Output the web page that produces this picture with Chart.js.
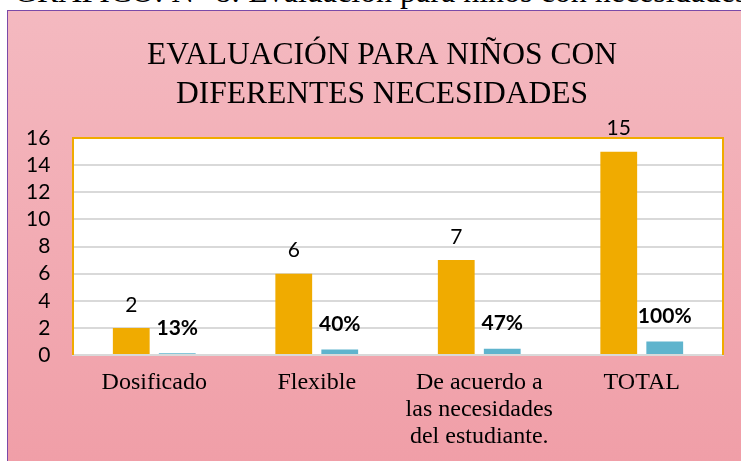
<!DOCTYPE html>
<html>
<head>
<meta charset="utf-8">
<script src="https://cdn.jsdelivr.net/npm/chart.js"></script>
<style>
  body { margin: 0; background: #fff; overflow: hidden; width: 741px; height: 461px; position: relative; }
  #cap { position: absolute; left: 14px; top: -25px; font: 32px "Liberation Serif", serif; line-height: 32px; white-space: nowrap; color: #000; }
  #box { position: absolute; left: 7px; top: 10px; width: 740px; height: 460px; border-left: 1px solid #7a4aa8; border-top: 1px solid #7a4aa8; }
</style>
</head>
<body>
<div id="cap">GRÁFICO: N° 8: Evaluación para niños con necesidades diferentes</div>
<div id="box"><canvas id="myChart" width="740" height="460"></canvas></div>
<script>
const categories = ['Dosificado', 'Flexible', ['De acuerdo a', 'las necesidades', 'del estudiante.'], 'TOTAL'];
const counts = [2, 6, 7, 15];
const shares = [0.13, 0.40, 0.47, 1.00];
const shareLabels = ['13%', '40%', '47%', '100%'];
const yMax = 16;
const yStep = 2;

// pink gradient behind everything, white plot area
const background = {
  id: 'background',
  beforeDraw(chart) {
    const ctx = chart.ctx, a = chart.chartArea;
    ctx.save();
    const g = ctx.createLinearGradient(0, 0, 0, chart.height);
    g.addColorStop(0, '#f4b9c0');
    g.addColorStop(1, '#f09ea7');
    ctx.fillStyle = g;
    ctx.fillRect(0, 0, chart.width, chart.height);
    ctx.fillStyle = '#fff';
    ctx.fillRect(a.left, a.top, a.right - a.left, a.bottom - a.top);
    ctx.restore();
  },
  afterDraw(chart) {
    const ctx = chart.ctx, a = chart.chartArea;
    ctx.save();
    ctx.strokeStyle = '#f0ab00';
    ctx.lineWidth = 2;
    ctx.beginPath();
    ctx.moveTo(a.left, a.bottom);
    ctx.lineTo(a.left, a.top);
    ctx.lineTo(a.right, a.top);
    ctx.lineTo(a.right, a.bottom);
    ctx.stroke();
    ctx.restore();
  }
};

// value labels above the bars
const barLabels = {
  id: 'barLabels',
  afterDatasetsDraw(chart) {
    const ctx = chart.ctx;
    chart.data.datasets.forEach((ds, i) => {
      chart.getDatasetMeta(i).data.forEach((bar, j) => {
        ctx.save();
        ctx.fillStyle = '#000';
        ctx.textAlign = 'center';
        ctx.textBaseline = 'middle';
        if (i === 0) {
          ctx.font = '21px Lato';
          ctx.fillText(String(counts[j]), bar.x, bar.y - 23);
        } else {
          ctx.font = 'bold 21px Lato';
          ctx.fillText(shareLabels[j], bar.x, bar.y - 25);
        }
        ctx.restore();
      });
    });
  }
};

new Chart(document.getElementById('myChart'), {
  type: 'bar',
  data: {
    labels: categories,
    datasets: [
      { data: counts, backgroundColor: '#f0ab00', categoryPercentage: 0.566, barPercentage: 0.8 },
      { data: shares, backgroundColor: '#5fb4cd', categoryPercentage: 0.566, barPercentage: 0.8 }
    ]
  },
  options: {
    responsive: false,
    animation: false,
    devicePixelRatio: 1,
    layout: { padding: { left: 33, right: 25, top: 0, bottom: 0 } },
    plugins: {
      legend: { display: false },
      tooltip: { enabled: false },
      title: {
        display: true,
        text: ['EVALUACIÓN PARA NIÑOS CON', 'DIFERENTES NECESIDADES'],
        color: '#000',
        font: { family: 'Liberation Serif', size: 31.5, weight: 'normal', lineHeight: 1.24 },
        padding: { top: 25, bottom: 24 }
      }
    },
    scales: {
      x: {
        grid: { display: false, drawTicks: false },
        border: { display: true, color: '#d9d9d9', width: 2 },
        ticks: { color: '#000', padding: 14, font: { family: 'Liberation Serif', size: 24, lineHeight: 1.13 } },
        afterFit(scale) { scale.height = 116; }
      },
      y: {
        min: 0,
        max: yMax,
        ticks: { stepSize: yStep, autoSkip: false, mirror: true, crossAlign: 'far', padding: -47, color: '#000', font: { family: 'Lato', size: 21 } },
        grid: { color: '#d9d9d9', lineWidth: 2, drawTicks: false },
        border: { display: false },
        afterFit(scale) { scale.width = 32; }
      }
    }
  },
  plugins: [background, barLabels]
});
</script>
</body>
</html>
